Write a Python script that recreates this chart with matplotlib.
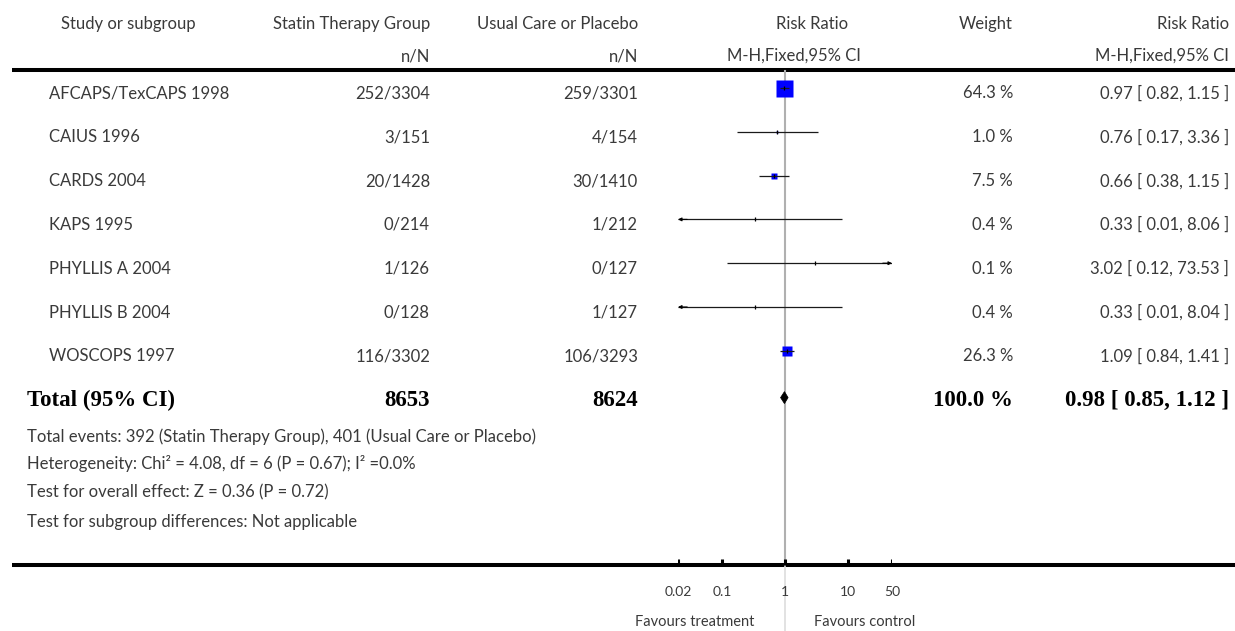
import numpy as np
import matplotlib
matplotlib.use("Agg")
import matplotlib.pyplot as plt
from matplotlib.patches import Polygon

# ---------------- data ----------------
studies = ["AFCAPS/TexCAPS 1998", "CAIUS 1996", "CARDS 2004", "KAPS 1995",
           "PHYLLIS A 2004", "PHYLLIS B 2004", "WOSCOPS 1997"]
statin_events = ["252/3304", "3/151", "20/1428", "0/214", "1/126", "0/128", "116/3302"]
control_events = ["259/3301", "4/154", "30/1410", "1/212", "0/127", "1/127", "106/3293"]
rr = [0.97, 0.76, 0.66, 0.33, 3.02, 0.33, 1.09]
ci_low = [0.82, 0.17, 0.38, 0.01, 0.12, 0.01, 0.84]
ci_high = [1.15, 3.36, 1.15, 8.06, 73.53, 8.04, 1.41]
weights = [64.3, 1.0, 7.5, 0.4, 0.1, 0.4, 26.3]

total_statin = 8653
total_control = 8624
total_rr = 0.98
total_low = 0.85
total_high = 1.12
total_weight = 100.0

footnotes = [
    "Total events: 392 (Statin Therapy Group), 401 (Usual Care or Placebo)",
    "Heterogeneity: Chi\u00b2 = 4.08, df = 6 (P = 0.67); I\u00b2 =0.0%",
    "Test for overall effect: Z = 0.36 (P = 0.72)",
    "Test for subgroup differences: Not applicable",
]
tick_values = [0.02, 0.1, 1, 10, 50]
tick_labels = ["0.02", "0.1", "1", "10", "50"]
axis_min, axis_max = 0.02, 50
favours_left = "Favours treatment"
favours_right = "Favours control"

# ---------------- layout ----------------
W, H = 1235, 631
FONT = "Lato"
TXT = "#3a3a3a"
FS = 12
plt.rcParams["font.family"] = [FONT, "DejaVu Sans"]

fig = plt.figure(figsize=(W / 100, H / 100), dpi=100)
ax0 = fig.add_axes([0, 0, 1, 1])
ax0.set_xlim(0, W)
ax0.set_ylim(H, 0)
ax0.axis("off")

px_lo, px_hi = 678, 892
ax = fig.add_axes([px_lo / W, 0, (px_hi - px_lo) / W, 1])
ax.set_xscale("log")
ax.set_xlim(axis_min, axis_max)
ax.set_ylim(H, 0)
ax.axis("off")

row0, row_step = 93.5, 43.8
row_y = [row0 + row_step * i for i in range(len(studies))]
total_y = row0 + row_step * len(studies) + 0.5

col_name = 49
col_statin = 430
col_control = 638
col_weight = 1013
col_rr = 1229

# header
ax0.text(128, 24, "Study or subgroup", ha="center", va="center", fontsize=FS, color=TXT)
ax0.text(col_statin, 24, "Statin Therapy Group", ha="right", va="center", fontsize=FS, color=TXT)
ax0.text(col_statin, 56, "n/N", ha="right", va="center", fontsize=FS, color=TXT)
ax0.text(col_control, 24, "Usual Care or Placebo", ha="right", va="center", fontsize=FS, color=TXT)
ax0.text(col_control, 56, "n/N", ha="right", va="center", fontsize=FS, color=TXT)
ax0.text(812, 24, "Risk Ratio", ha="center", va="center", fontsize=FS, color=TXT)
ax0.text(794, 56, "M-H,Fixed,95% CI", ha="center", va="center", fontsize=FS, color=TXT)
ax0.text(col_weight, 24, "Weight", ha="right", va="center", fontsize=FS, color=TXT)
ax0.text(col_rr, 24, "Risk Ratio", ha="right", va="center", fontsize=FS, color=TXT)
ax0.text(col_rr, 56, "M-H,Fixed,95% CI", ha="right", va="center", fontsize=FS, color=TXT)

ax0.plot([12, W], [69.5, 69.5], color="black", lw=2.9, solid_capstyle="butt")

# reference line at 1
ax.plot([1, 1], [71, 564], color="#b0b0b0", lw=1.5, zorder=1)
ax.plot([1, 1], [566, H], color="#dddddd", lw=1.2, zorder=1)

# study rows
max_w = max(weights)
for i, name in enumerate(studies):
    y = row_y[i]
    ax0.text(col_name, y, name, ha="left", va="center", fontsize=FS, color=TXT)
    ax0.text(col_statin, y, statin_events[i], ha="right", va="center", fontsize=FS, color=TXT)
    ax0.text(col_control, y, control_events[i], ha="right", va="center", fontsize=FS, color=TXT)
    ax0.text(col_weight, y, f"{weights[i]:.1f} %", ha="right", va="center", fontsize=FS, color=TXT)
    ax0.text(col_rr, y, f"{rr[i]:.2f} [ {ci_low[i]:.2f}, {ci_high[i]:.2f} ]",
             ha="right", va="center", fontsize=FS, color=TXT)

    ym = y - 5.5
    side_px = 17 * np.sqrt(weights[i] / max_w)
    ax.plot([rr[i]], [ym], marker="s", ms=side_px * 0.72, mfc="#0000ff", mec="none",
            ls="none", zorder=3)
    lo = max(ci_low[i], axis_min)
    hi = min(ci_high[i], axis_max)
    ax.plot([lo, hi], [ym, ym], color="#1a1a1a", lw=0.9, zorder=4, solid_capstyle="butt")
    ax.plot([rr[i]], [ym], marker="|", ms=3.2, mew=0.9, color="black", ls="none", zorder=5)
    arrow = dict(arrowstyle="-|>", mutation_scale=5, lw=0.8, color="black",
                 shrinkA=0, shrinkB=0)
    if ci_low[i] < axis_min:
        ax.annotate("", xy=(axis_min, ym), xytext=(axis_min * 1.4, ym),
                    arrowprops=arrow, annotation_clip=False, zorder=5)
    if ci_high[i] > axis_max:
        ax.annotate("", xy=(axis_max, ym), xytext=(axis_max / 1.4, ym),
                    arrowprops=arrow, annotation_clip=False, zorder=5)

# total row
BFONT = "Liberation Serif"
BFS = 16.5
ax0.text(27, total_y, "Total (95% CI)", ha="left", va="center", fontsize=BFS,
         fontweight="bold", family=BFONT, color="black")
ax0.text(col_statin, total_y, f"{total_statin}", ha="right", va="center", fontsize=BFS,
         fontweight="bold", family=BFONT, color="black")
ax0.text(col_control, total_y, f"{total_control}", ha="right", va="center", fontsize=BFS,
         fontweight="bold", family=BFONT, color="black")
ax0.text(col_weight, total_y, f"{total_weight:.1f} %", ha="right", va="center", fontsize=BFS,
         fontweight="bold", family=BFONT, color="black")
ax0.text(col_rr, total_y, f"{total_rr:.2f} [ {total_low:.2f}, {total_high:.2f} ]",
         ha="right", va="center", fontsize=BFS, fontweight="bold", family=BFONT, color="black")
yd = total_y - 3
diamond = Polygon([(total_low, yd), (total_rr, yd - 6), (total_high, yd), (total_rr, yd + 6)],
                  closed=True, facecolor="black", edgecolor="black", lw=0.5, zorder=5)
ax.add_patch(diamond)

# footnotes
foot_y = [437, 463, 492, 522]
for t, y in zip(footnotes, foot_y):
    ax0.text(27, y, t, ha="left", va="center", fontsize=12, color=TXT)

# bottom axis
ax0.plot([12, W], [565, 565], color="black", lw=2.9, solid_capstyle="butt")
ax.vlines(tick_values, 558.5, 565, color="black", lw=2.2, zorder=6)
for v, lab in zip(tick_values, tick_labels):
    ax.text(v, 592, lab, ha="center", va="center", fontsize=10, color=TXT)
ax0.text(695, 622, favours_left, ha="center", va="center", fontsize=10.5, color=TXT)
ax0.text(865, 622, favours_right, ha="center", va="center", fontsize=10.5, color=TXT)

fig.savefig("out.png", dpi=100, facecolor="white")
